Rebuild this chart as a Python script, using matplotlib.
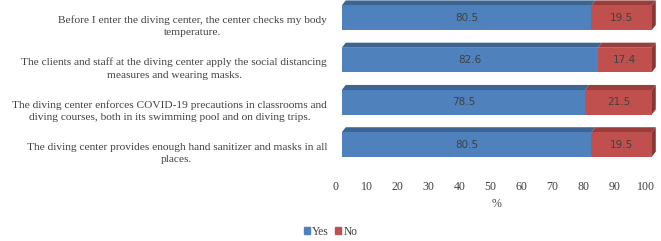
import numpy as np
import matplotlib
matplotlib.use("Agg")
import matplotlib.pyplot as plt
from matplotlib.patches import Polygon, Patch
from matplotlib.transforms import ScaledTranslation

# Data
questions = [
    "Before I enter the diving center, the center checks my body\ntemperature.",
    "The clients and staff at the diving center apply the social distancing\nmeasures and wearing masks.",
    "The diving center enforces COVID-19 precautions in classrooms and\ndiving courses, both in its swimming pool and on diving trips.",
    "The diving center provides enough hand sanitizer and masks in all\nplaces.",
]
yes_vals = [80.5, 82.6, 78.5, 80.5]
no_vals = [19.5, 17.4, 21.5, 19.5]

blue, blue_top = "#4F81BD", "#3D6594"
red, red_top, red_side = "#C0504D", "#9A3E3B", "#8A3532"
txt = "#404040"

plt.rcParams['font.family'] = ['Liberation Serif', 'DejaVu Serif']

fig = plt.figure(figsize=(6.61, 2.41), dpi=100)
ax = fig.add_axes([0.517, 0.274, 0.469, 0.726])

ypos = np.arange(len(questions))
h = 0.58
dx, dy = 1.3, 0.12  # 3D depth offsets

ax.barh(ypos, yes_vals, height=h, color=blue, label="Yes", zorder=2)
ax.barh(ypos, no_vals, left=yes_vals, height=h, color=red, label="No", zorder=2)

for y, a, b in zip(ypos, yes_vals, no_vals):
    top = y - h / 2
    # top faces
    ax.add_patch(Polygon([(0, top), (a, top), (a + dx, top - dy), (dx, top - dy)],
                         closed=True, color=blue_top, lw=0, zorder=1, clip_on=False))
    ax.add_patch(Polygon([(a, top), (a + b, top), (a + b + dx, top - dy), (a + dx, top - dy)],
                         closed=True, color=red_top, lw=0, zorder=1, clip_on=False))
    # right side
    ax.add_patch(Polygon([(a + b, top), (a + b + dx, top - dy), (a + b + dx, y + h / 2 - dy),
                          (a + b, y + h / 2)], closed=True, color=red_side, lw=0, zorder=1,
                         clip_on=False))
    ax.text(a / 2, y, f"{a}", ha="center", va="center", fontsize=7.5, color=txt,
            family="DejaVu Sans")
    ax.text(a + b / 2, y, f"{b}", ha="center", va="center", fontsize=7.5, color=txt,
            family="DejaVu Sans")

ax.set_xlim(0, 100)
ax.set_ylim(3.72, -0.42)
ax.set_xticks(range(0, 101, 10))
ax.set_yticks(ypos)
ax.set_yticklabels(questions, fontsize=8.2, color=txt, multialignment="center",
                   linespacing=1.45)
ax.tick_params(axis="both", length=0, labelcolor=txt)
ax.tick_params(axis="x", labelsize=8.6, pad=4)
ax.tick_params(axis="y", pad=10.5)
ax.set_xlabel("%", fontsize=8.6, color=txt, labelpad=4)
for s in ax.spines.values():
    s.set_visible(False)

# shift tick labels like the 3D back plane
for lab in ax.get_yticklabels():
    lab.set_transform(lab.get_transform() + ScaledTranslation(0, -0.06, fig.dpi_scale_trans))
for lab in ax.get_xticklabels():
    lab.set_transform(lab.get_transform() + ScaledTranslation(-0.06, 0, fig.dpi_scale_trans))

handles = [Patch(color=blue, label="Yes"), Patch(color=red, label="No")]
fig.legend(handles=handles, loc="lower center", bbox_to_anchor=(0.5, -0.03), ncol=2,
           frameon=False, fontsize=8.3, handlelength=0.55, handleheight=0.55,
           handletextpad=0.2, columnspacing=0.5, labelcolor=txt)

fig.savefig("out.png", dpi=100)
